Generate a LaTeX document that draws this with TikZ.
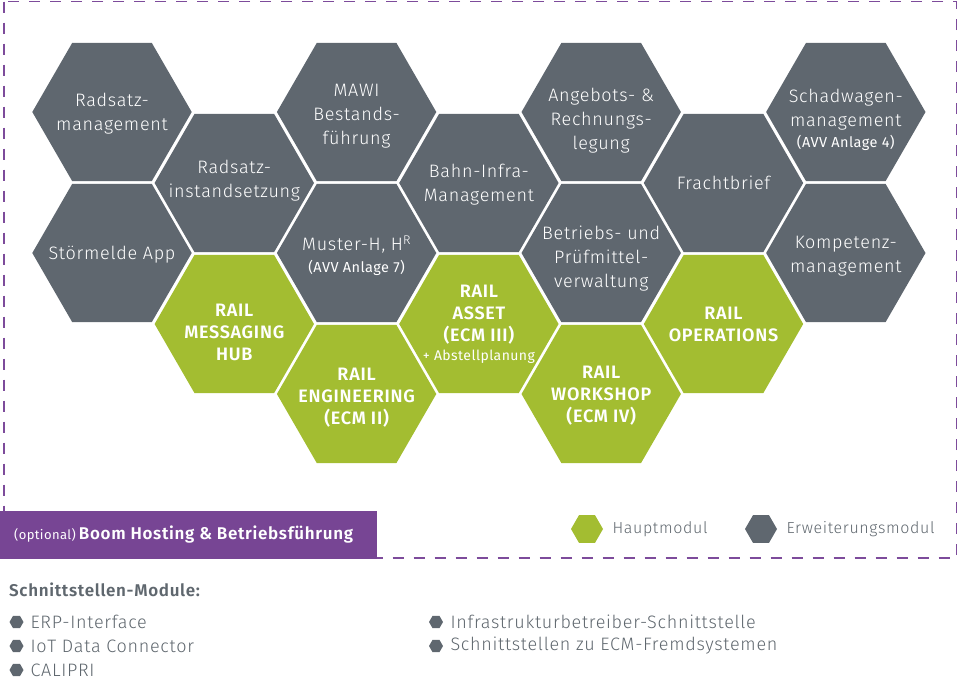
\documentclass[tikz,border=0pt]{standalone}
\usepackage{fontspec}
\setmainfont{Fira Sans Light}[BoldFont={Fira Sans SemiBold}, LetterSpace=4]
\newfontfamily\notefamily{Fira Sans}[LetterSpace=3]
\usetikzlibrary{shapes.geometric}

\definecolor{modgrey}{HTML}{5F676F}
\definecolor{modgreen}{HTML}{A3BD31}
\definecolor{boompurple}{HTML}{774594}
\definecolor{framepurple}{HTML}{7D4B9B}
\definecolor{textgrey}{HTML}{5F676E}

\newcommand{\notefont}{\notefamily\mdseries\fontsize{14.5}{17}\selectfont}

\tikzset{
  hexbase/.style={regular polygon, regular polygon sides=6, inner sep=0pt, minimum size=159.4pt},
  hexgrey/.style={hexbase, fill=modgrey},
  hexgreen/.style={hexbase, fill=modgreen},
  greytext/.style={text=white, align=center, font=\fontsize{18}{24}\selectfont},
  greentext/.style={text=white, align=center, font=\fontsize{18}{22}\selectfont\bfseries},
  legendhex/.style={regular polygon, regular polygon sides=6, inner sep=0pt, minimum size=32pt},
  bullethex/.style={regular polygon, regular polygon sides=6, inner sep=0pt, minimum size=14pt, fill=modgrey},
  legendtext/.style={anchor=west, text=textgrey, font=\fontsize{16}{20}\selectfont},
  listtext/.style={anchor=west, text=textgrey, font=\fontsize{18}{20}\selectfont},
}

\begin{document}
\begin{tikzpicture}[x=1pt, y=-1pt]
  \useasboundingbox (0,0) rectangle (958,686);

  % frame
  \draw[framepurple, line width=1.3pt, dash pattern=on 11pt off 10pt]
    (4,1.5) rectangle (956.5,558);

  % modules
  \node[hexgrey] (rsm) at (112,112) {};
  \node[hexgrey] (sma) at (112,253) {};
  \node[hexgrey] (rsi) at (234.3,183) {};
  \node[hexgreen] (rmh) at (234.3,324) {};
  \node[hexgrey] (mawi) at (356.6,112) {};
  \node[hexgrey] (mush) at (356.6,253) {};
  \node[hexgreen] (reng) at (356.6,394) {};
  \node[hexgrey] (bim) at (478.9,183) {};
  \node[hexgreen] (rass) at (478.9,324) {};
  \node[hexgrey] (arl) at (601.2,112) {};
  \node[hexgrey] (bpv) at (601.2,253) {};
  \node[hexgreen] (rws) at (601.2,394) {};
  \node[hexgrey] (fb) at (723.5,183) {};
  \node[hexgreen] (rops) at (723.5,324) {};
  \node[hexgrey] (swm) at (845.8,112) {};
  \node[hexgrey] (kpm) at (845.8,253) {};

  \node[greytext] (rsm-t) at ([yshift=-2pt]rsm) {Radsatz-\\management};
  \node[greytext] (sma-t) at ([yshift=-2pt]sma) {Störmelde App};
  \node[greytext] (rsi-t) at ([yshift=2pt]rsi) {Radsatz-\\instandsetzung};
  \node[greentext] (rmh-t) at ([yshift=-8pt]rmh) {RAIL\\MESSAGING\\HUB};
  \node[greytext] (mawi-t) at ([yshift=-4pt]mawi) {MAWI\\Bestands-\\führung};
  \node[greytext] (mush-t) at ([yshift=-3pt]mush) {Muster-H, H\textsuperscript{R}\\[-2pt]{\notefont (AVV Anlage 7)}};
  \node[greentext] (reng-t) at ([yshift=-4pt]reng) {RAIL\\ENGINEERING\\(ECM II)};
  \node[greytext] (bim-t) at ([yshift=-2pt]bim) {Bahn-Infra-\\Management};
  \node[greentext] (rass-t) at (rass) {RAIL\\ASSET\\(ECM III)\\[-3pt]{\notefamily\mdseries\fontsize{14}{17}\selectfont + Abstellplanung}};
  \node[greytext] (arl-t) at ([yshift=-8.5pt]arl) {Angebots- \&\\Rechnungs-\\legung};
  \node[greytext] (bpv-t) at ([yshift=-5.5pt]bpv) {Betriebs- und\\Prüfmittel-\\verwaltung};
  \node[greentext] (rws-t) at ([yshift=-2pt]rws) {RAIL\\WORKSHOP\\(ECM IV)};
  \node[greytext] (fb-t) at (fb) {Frachtbrief};
  \node[greentext] (rops-t) at (rops) {RAIL\\OPERATIONS};
  \node[greytext] (swm-t) at ([yshift=-8pt]swm) {Schadwagen-\\management\\[-3pt]{\notefont (AVV Anlage 4)}};
  \node[greytext] (kpm-t) at ([yshift=-3pt]kpm) {Kompetenz-\\management};

  % hosting box
  \node[fill=boompurple, minimum width=377pt, minimum height=48pt, inner sep=0pt] (boom) at (188.5,535) {};
  \node[anchor=west, text=white, inner sep=0pt] (boom-t) at (14,535)
    {{\notefamily\fontsize{13}{16}\selectfont (optional)} {\fontsize{17}{22}\selectfont\bfseries Boom Hosting \& Betriebsführung}};

  % legend
  \node[legendhex, fill=modgreen] (lgmain) at (587,529) {};
  \node[legendtext] (lgmain-t) at (609,529) {Hauptmodul};
  \node[legendhex, fill=modgrey] (lgext) at (761,529) {};
  \node[legendtext] (lgext-t) at (783,529) {Erweiterungsmodul};

  % interfaces
  \node[anchor=west, text=textgrey, inner sep=0pt, font=\fontsize{17}{20}\selectfont\bfseries] (ifhead) at (9,590) {Schnittstellen-Module:};
  \node[bullethex] (b1) at (16.5,622) {};
  \node[bullethex] (b2) at (16.5,646) {};
  \node[bullethex] (b3) at (16.5,670) {};
  \node[bullethex] (b4) at (436,622) {};
  \node[bullethex] (b5) at (436,646) {};
  \node[listtext] (b1-t) at (27,622) {ERP-Interface};
  \node[listtext] (b2-t) at (27,646) {IoT Data Connector};
  \node[listtext] (b3-t) at (27,670) {CALIPRI};
  \node[listtext] (b4-t) at (447,622) {Infrastrukturbetreiber-Schnittstelle};
  \node[listtext] (b5-t) at (447,646) {Schnittstellen zu ECM-Fremdsystemen};
\end{tikzpicture}
\end{document}
